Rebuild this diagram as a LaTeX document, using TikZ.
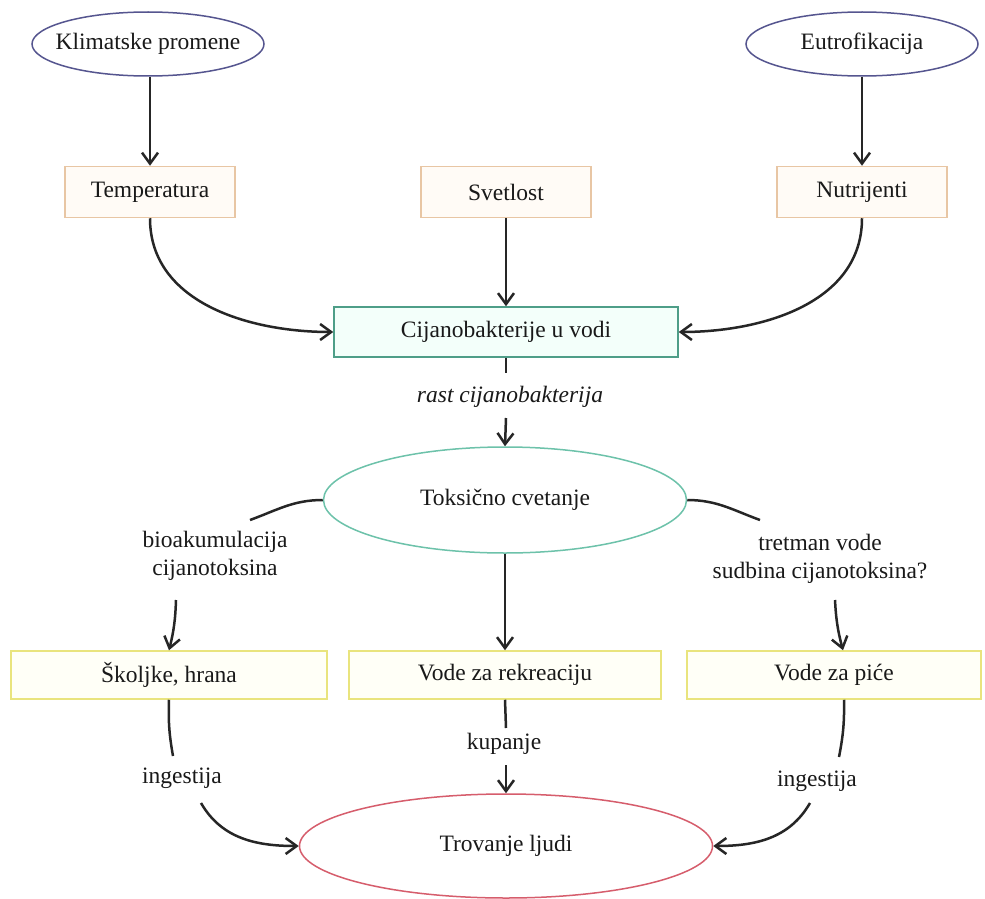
\documentclass[tikz,border=0pt]{standalone}
\usepackage{fontspec}
\setmainfont{Liberation Serif}
\usetikzlibrary{shapes.geometric,arrows.meta,calc}
\definecolor{navyc}{HTML}{55558F}
\definecolor{orgc}{HTML}{E8C6A4}
\definecolor{orgfill}{HTML}{FFFBF6}
\definecolor{tealc}{HTML}{4E9E88}
\definecolor{tealfill}{HTML}{F3FFFA}
\definecolor{greenc}{HTML}{6DC2AA}
\definecolor{yelc}{HTML}{E9E47E}
\definecolor{yelfill}{HTML}{FFFFF7}
\definecolor{redc}{HTML}{D65D6C}
\begin{document}
\begin{tikzpicture}[x=1pt,y=-1pt,
  every node/.style={font=\fontsize{23.5}{28}\selectfont, text=black!90},
  cause/.style={ellipse, draw=navyc, line width=1.5pt, minimum width=232pt, minimum height=64pt, inner sep=0pt},
  factor/.style={rectangle, draw=orgc, fill=orgfill, line width=1.5pt, minimum width=170pt, minimum height=51pt},
  waterbox/.style={rectangle, draw=tealc, fill=tealfill, line width=1.5pt, minimum width=344pt, minimum height=50pt},
  bloom/.style={ellipse, draw=greenc, line width=1.5pt, minimum width=363pt, minimum height=106pt, inner sep=0pt},
  expo/.style={rectangle, draw=yelc, fill=yelfill, line width=1.5pt, minimum height=48pt},
  effect/.style={ellipse, draw=redc, line width=1.5pt, minimum width=413pt, minimum height=104pt, inner sep=0pt},
  arr/.style={draw=black!85, line width=2.5pt, -{Straight Barb[length=11pt,width=16pt]}},
  ln/.style={draw=black!85, line width=2.5pt},
  lbl/.style={align=center, inner sep=0pt}]
\useasboundingbox (0,0) rectangle (985,899);
\fill[white] (0,0) rectangle (985,899);

% top causes
\node[cause] (klim) at (148,44) {\makebox[0pt]{Klimatske promene}};
\node[cause] (eutro) at (862,44) {\makebox[0pt]{Eutrofikacija}};

% factors
\node[factor] (temp) at (150,192) {Temperatura};
\node[factor] (svet) at (506,192) {Svetlost};
\node[factor] (nutr) at (862,192) {Nutrijenti};

% cyanobacteria
\node[waterbox] (cijano) at (506,332) {Cijanobakterije u vodi};
\node[lbl, font=\fontsize{23.5}{28}\selectfont\itshape] (rast) at (510,397) {rast cijanobakterija};

\node[bloom] (toks) at (505,500) {Toksično cvetanje};

\node[lbl] (bio) at (215,556) {bioakumulacija\\cijanotoksina};
\node[lbl] (tret) at (820,559) {tretman vode\\sudbina cijanotoksina?};

\node[expo, minimum width=316pt] (skolj) at (169,675) {Školjke, hrana};
\node[expo, minimum width=312pt] (rekr) at (505,675) {Vode za rekreaciju};
\node[expo, minimum width=294pt] (pice) at (834,675) {Vode za piće};

\node[lbl] (ing1) at (182,778) {ingestija};
\node[lbl] (kup) at (504,744) {kupanje};
\node[lbl] (ing2) at (817,781) {ingestija};

\node[effect] (trov) at (506,846) {Trovanje ljudi};

% connectors top
\draw[arr] (klim.south -| temp.north) -- (temp.north);
\draw[arr] (eutro) -- (nutr);
\draw[arr] (temp.south) to[out=-90,in=180] (cijano.west);
\draw[arr] (svet.south) -- (cijano.north);
\draw[arr] (nutr.south) to[out=-90,in=0] (cijano.east);

\coordinate (r1) at (506,373);
\coordinate (r2) at (506,418);
\draw[ln] (cijano.south) -- (r1);
\draw[arr] (r2) -- (toks.north);

% bloom branches
\coordinate (b1) at (250,520);
\coordinate (b2) at (176,600);
\draw[ln] (toks.west) to[out=180,in=20] (b1);
\draw[arr] (b2) to[bend left=6] (skolj.north);

\coordinate (t1) at (760,520);
\coordinate (t2) at (835,600);
\draw[ln] (toks.east) to[out=0,in=160] (t1);
\draw[arr] (t2) to[bend right=6] ($(pice.north)+(9,0)$);

\draw[arr] (toks.south) -- (rekr.north);

% exposure to effect
\coordinate (s1) at (173,756);
\coordinate (s2) at (201,803);
\draw[ln] (skolj.south) to[bend right=6] (s1);
\draw[arr] (s2) to[out=-60,in=180] (trov.west);

\coordinate (k1) at (506,728);
\coordinate (k2) at (506,765);
\draw[ln] (rekr.south) -- (k1);
\draw[arr] (k2) -- (trov.north);

\coordinate (p1) at (839,757);
\coordinate (p2) at (810,803);
\draw[ln] ($(pice.south)+(10,0)$) to[bend left=6] (p1);
\draw[arr] (p2) to[out=-120,in=0] (trov.east);
\end{tikzpicture}
\end{document}
